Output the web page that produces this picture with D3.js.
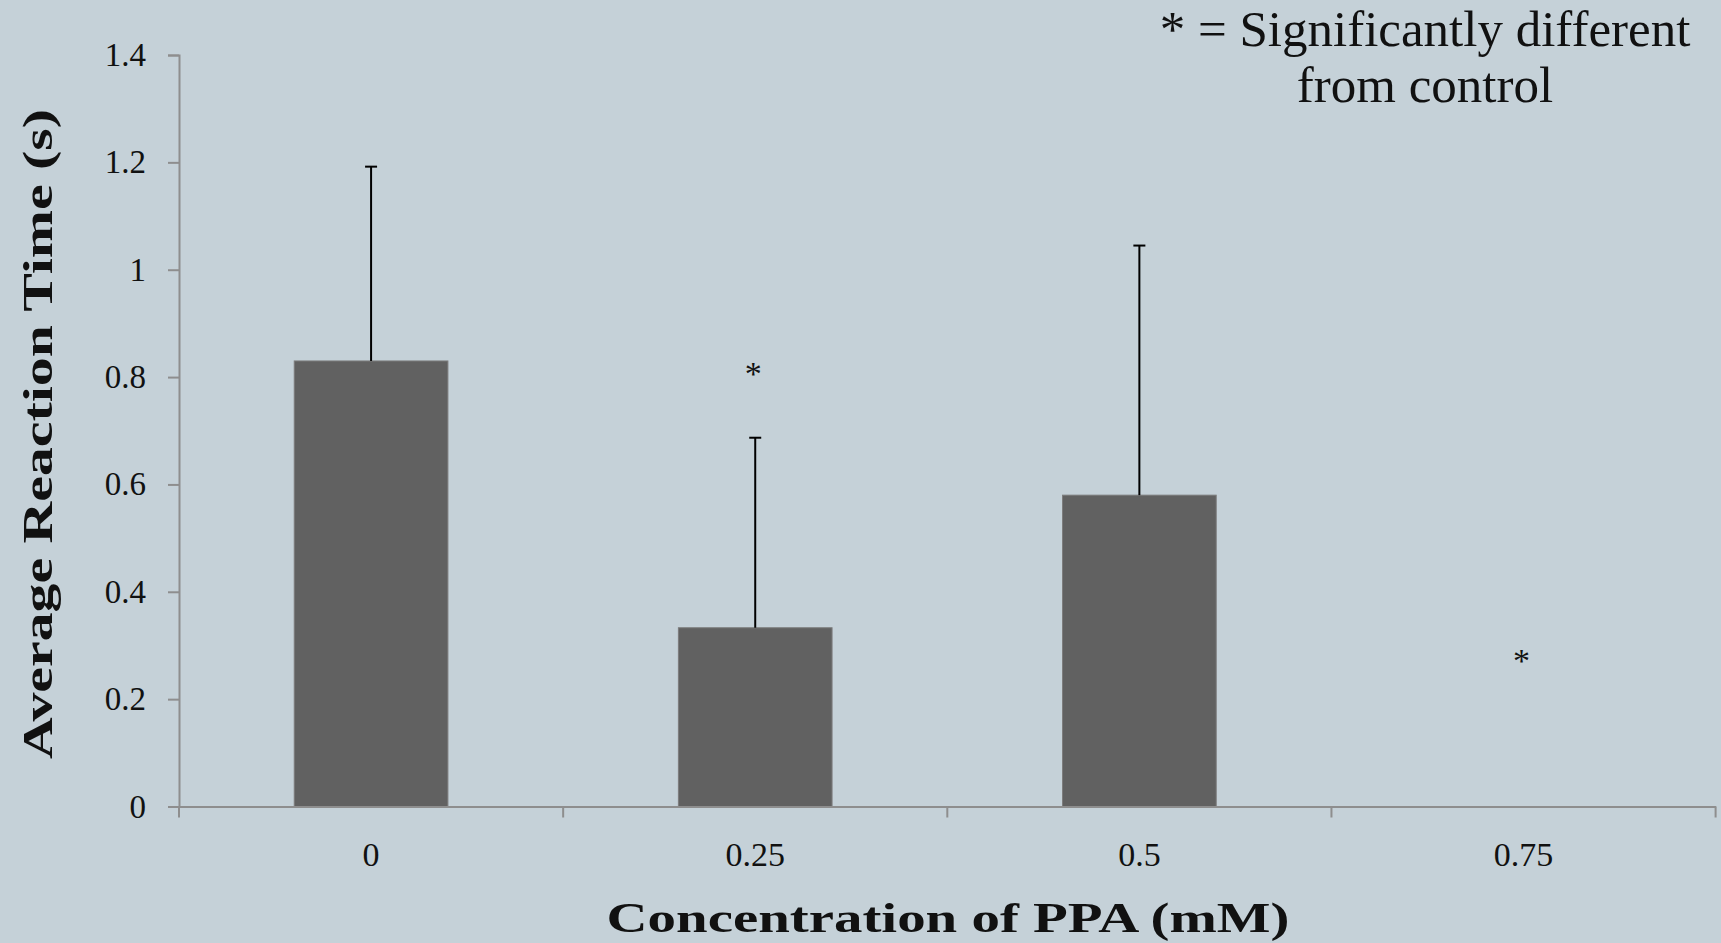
<!DOCTYPE html>
<html><head><meta charset="utf-8">
<script src="https://cdn.jsdelivr.net/npm/d3@7"></script>
<style>html,body{margin:0;padding:0;background:#c5d1d8;}svg{display:block;}</style>
</head><body>
<svg id="chart" width="1721" height="943"></svg>
<script>
const categories = ["0", "0.25", "0.5", "0.75"];
const means = [0.83, 0.333, 0.58, 0];
const errors = [0.362, 0.354, 0.465, null];
const significant = [false, true, false, true];
const starValues = [null, 0.815, null, 0.28];
const yTicks = [0, 0.2, 0.4, 0.6, 0.8, 1, 1.2, 1.4];

const W = 1721, H = 943;
const m = {left: 179, right: 5.4, top: 55, bottom: 136.5};
const svg = d3.select("#chart");
svg.append("rect").attr("width", W).attr("height", H).attr("fill", "#c5d1d8");

const x = d3.scaleBand().domain(categories).range([m.left, W - m.right]).paddingInner(0.6).paddingOuter(0.3);
const y = d3.scaleLinear().domain([0, 1.4]).range([H - m.bottom, m.top]);
const serif = "Georgia, 'Liberation Serif', 'DejaVu Serif', serif";
const axisColor = "#8e8e8e";

// bars
svg.append("g").selectAll("rect").data(categories.map((c, i) => ({c, v: means[i]})).filter(d => d.v > 0))
  .join("rect")
  .attr("x", d => x(d.c)).attr("width", x.bandwidth())
  .attr("y", d => y(d.v)).attr("height", d => y(0) - y(d.v))
  .attr("fill", "#616161").attr("stroke", "#7c7c7c").attr("stroke-width", 1);

// error bars
const eg = svg.append("g").attr("stroke", "#000").attr("stroke-width", 2);
categories.forEach((c, i) => {
  if (errors[i] == null) return;
  const cx = x(c) + x.bandwidth() / 2;
  eg.append("line").attr("x1", cx).attr("x2", cx).attr("y1", y(means[i])).attr("y2", y(means[i] + errors[i]));
  eg.append("line").attr("x1", cx - 6).attr("x2", cx + 6).attr("y1", y(means[i] + errors[i])).attr("y2", y(means[i] + errors[i]));
});

// significance stars
categories.forEach((c, i) => {
  if (!significant[i]) return;
  svg.append("text").attr("x", x(c) + x.bandwidth() / 2 - 2).attr("y", y(starValues[i]) + 16)
    .attr("text-anchor", "middle").attr("font-family", serif).attr("font-size", 34).attr("fill", "#111").text("*");
});

// y axis
const yAxis = svg.append("g").attr("transform", `translate(${m.left},0)`)
  .call(d3.axisLeft(y).tickValues(yTicks).tickSize(11).tickPadding(22).tickFormat(d => String(d)));
yAxis.select(".domain").attr("stroke", axisColor).attr("stroke-width", 2);
yAxis.selectAll(".tick line").attr("stroke", axisColor).attr("stroke-width", 2);
yAxis.selectAll(".tick text").attr("font-family", serif).attr("font-size", 33).attr("fill", "#111");

// x axis
const xAxis = svg.append("g").attr("transform", `translate(0,${y(0)})`)
  .call(d3.axisBottom(x).tickSize(0).tickPadding(35));
xAxis.select(".domain").attr("stroke", axisColor).attr("stroke-width", 2);
xAxis.selectAll(".tick text").attr("font-family", serif).attr("font-size", 34).attr("fill", "#111");
// category boundary ticks
const step = x.step();
const bounds = d3.range(categories.length + 1).map(i => m.left + i * step);
svg.append("g").selectAll("line").data(bounds).join("line")
  .attr("x1", d => d).attr("x2", d => d).attr("y1", y(0)).attr("y2", y(0) + 11)
  .attr("stroke", axisColor).attr("stroke-width", 2);

// axis titles
svg.append("text").attr("x", 948).attr("y", 932).attr("text-anchor", "middle")
  .attr("font-family", serif).attr("font-weight", "bold").attr("font-size", 42).attr("fill", "#111")
  .attr("textLength", 683).attr("lengthAdjust", "spacingAndGlyphs")
  .text("Concentration of PPA (mM)");
svg.append("text").attr("transform", "translate(52,434) rotate(-90)").attr("text-anchor", "middle")
  .attr("font-family", serif).attr("font-weight", "bold").attr("font-size", 42).attr("fill", "#111")
  .attr("textLength", 650).attr("lengthAdjust", "spacingAndGlyphs")
  .text("Average Reaction Time (s)");

// legend note
const note = svg.append("text").attr("text-anchor", "middle").attr("font-family", serif)
  .attr("font-size", 51).attr("fill", "#111");
note.append("tspan").attr("x", 1425).attr("y", 46).text("* = Significantly different");
note.append("tspan").attr("x", 1425).attr("y", 102).text("from control");
</script>
</body></html>
